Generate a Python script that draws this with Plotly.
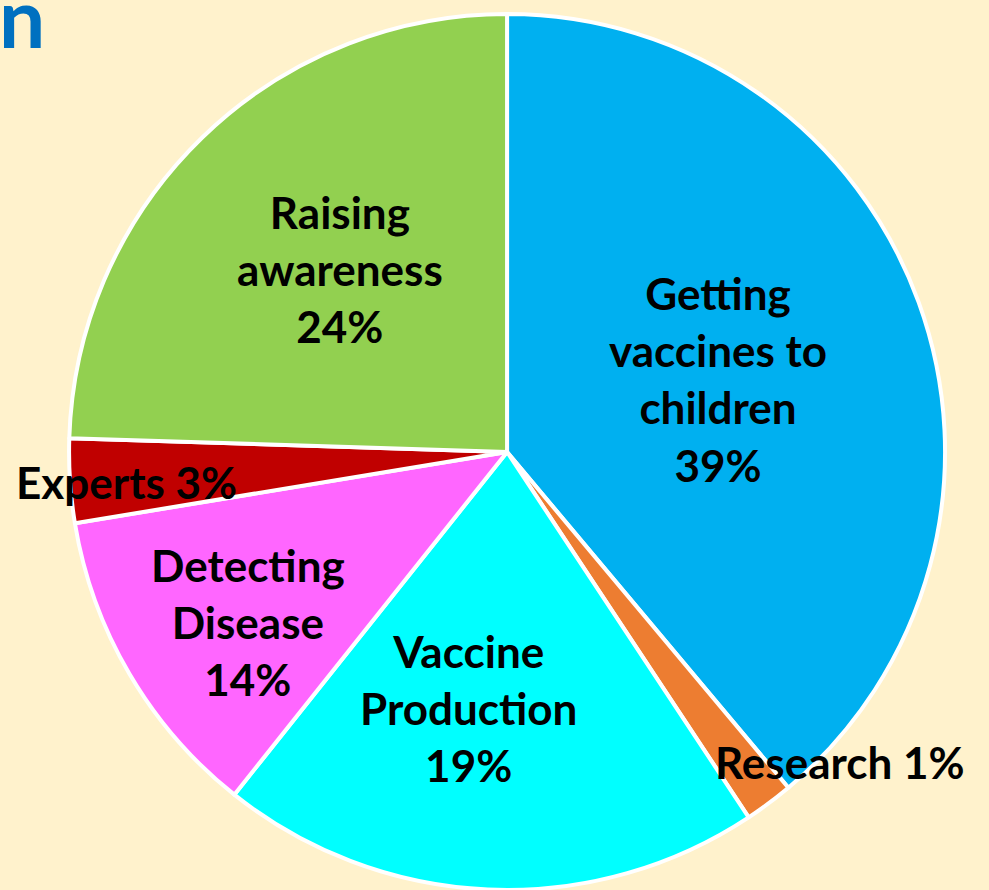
import plotly.graph_objects as go

# Data (clockwise from 12 o'clock)
categories = ["Getting vaccines to children", "Research", "Vaccine Production",
              "Detecting Disease", "Experts", "Raising awareness"]
slice_values = [38.9, 1.8, 20.0, 11.7, 3.1, 24.5]
label_texts = ["Getting<br>vaccines to<br>children<br>39%", "Research 1%",
               "Vaccine<br>Production<br>19%", "Detecting<br>Disease<br>14%",
               "Experts 3%", "Raising<br>awareness<br>24%"]
slice_colors = ["#00B0F0", "#ED7D31", "#00FFFF", "#FF66FF", "#C00000", "#92D050"]
title_fragment = "n"

W, H = 989, 890
label_px = [(718, 371), (840, 760), (468, 705), (248, 618), (126, 475), (340, 259)]

fig = go.Figure(go.Pie(
    labels=categories,
    values=slice_values,
    sort=False,
    direction="clockwise",
    rotation=0,
    marker=dict(colors=slice_colors, line=dict(color="white", width=4)),
    textinfo="none",
    hoverinfo="label+percent",
    domain=dict(x=[0.0698, 0.9556], y=[0, 1]),
    showlegend=False,
))

for txt, (px, py) in zip(label_texts, label_px):
    fig.add_annotation(
        text=txt, x=px / W, y=1 - py / H, xref="paper", yref="paper",
        xanchor="center", yanchor="middle", showarrow=False,
        font=dict(family="Lato", size=44, color="black", weight="bold"),
    )

fig.add_annotation(
    text=title_fragment, x=0, y=1, xref="paper", yref="paper",
    xanchor="left", yanchor="top", showarrow=False, xshift=-3, yshift=49,
    font=dict(family="Lato", size=82, color="#0070C0", weight="bold"),
)

fig.update_layout(
    width=W, height=H,
    margin=dict(l=0, r=0, t=14, b=0),
    paper_bgcolor="#FFF2CC",
    plot_bgcolor="#FFF2CC",
)

fig.write_html(
    "out.html",
    config={"displayModeBar": False},
    post_script="document.body.style.margin='0';document.body.style.overflow='hidden';"
                "document.body.style.background='#FFF2CC';",
)
